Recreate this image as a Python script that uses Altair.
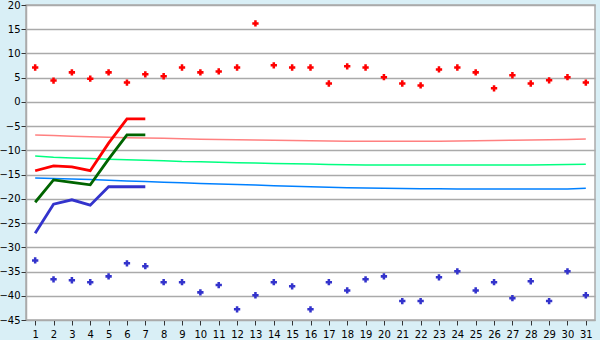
import altair as alt
import pandas as pd

days = list(range(1, 32))

# scatter points
red_pts = [7.1, 4.4, 6.1, 4.8, 6.1, 4.0, 5.7, 5.3, 7.1, 6.1, 6.3, 7.1, 16.2, 7.55, 7.1, 7.1,
           3.8, 7.35, 7.1, 5.1, 3.8, 3.4, 6.7, 7.1, 6.1, 2.8, 5.5, 3.8, 4.45, 5.1, 4.0]
blue_pts = [-32.7, -36.6, -36.8, -37.2, -36.0, -33.3, -33.9, -37.2, -37.2, -39.3, -37.8, -42.8,
            -39.9, -37.2, -38.05, -42.8, -37.2, -38.9, -36.6, -36.0, -41.1, -41.1, -36.2, -34.95,
            -38.9, -37.2, -40.5, -37.0, -41.1, -34.95, -39.9]

# thin normal lines
pink_line = [-6.85, -6.95, -7.1, -7.2, -7.3, -7.4, -7.45, -7.5, -7.6, -7.7, -7.75, -7.8, -7.85,
             -7.9, -7.95, -8.0, -8.05, -8.1, -8.1, -8.1, -8.1, -8.1, -8.1, -8.05, -8.0, -7.95,
             -7.9, -7.85, -7.8, -7.75, -7.65]
green_line = [-11.15, -11.4, -11.55, -11.7, -11.85, -11.95, -12.05, -12.15, -12.3, -12.35, -12.45,
              -12.55, -12.6, -12.7, -12.75, -12.8, -12.9, -12.95, -13.0, -13.0, -13.0, -13.0,
              -13.0, -13.0, -13.0, -13.0, -13.0, -13.0, -12.95, -12.9, -12.85]
blue_line = [-15.7, -15.8, -15.9, -16.0, -16.15, -16.3, -16.4, -16.55, -16.7, -16.85, -16.95,
             -17.05, -17.15, -17.3, -17.4, -17.5, -17.6, -17.7, -17.75, -17.8, -17.85, -17.9,
             -17.9, -17.95, -17.95, -17.95, -17.95, -17.95, -17.95, -17.95, -17.8]

# thick lines (first 7 days)
thick_days = [1, 2, 3, 4, 5, 6, 7]
red_thick = [-14.2, -13.2, -13.4, -14.2, -8.5, -3.5, -3.5]
green_thick = [-20.7, -16.1, -16.6, -17.1, -11.8, -6.8, -6.8]
blue_thick = [-27.1, -21.1, -20.2, -21.3, -17.5, -17.5, -17.5]

y_ticks = list(range(-45, 21, 5))

thin_df = pd.DataFrame(
    [{"day": d, "v": v, "s": "pink"} for d, v in zip(days, pink_line)]
    + [{"day": d, "v": v, "s": "green"} for d, v in zip(days, green_line)]
    + [{"day": d, "v": v, "s": "blue"} for d, v in zip(days, blue_line)]
)
thick_df = pd.DataFrame(
    [{"day": d, "v": v, "s": "red"} for d, v in zip(thick_days, red_thick)]
    + [{"day": d, "v": v, "s": "dgreen"} for d, v in zip(thick_days, green_thick)]
    + [{"day": d, "v": v, "s": "dblue"} for d, v in zip(thick_days, blue_thick)]
)
pts_df = pd.DataFrame(
    [{"day": d, "v": v, "s": "rp"} for d, v in zip(days, red_pts)]
    + [{"day": d, "v": v, "s": "bp"} for d, v in zip(days, blue_pts)]
)

FONT = "DejaVu Sans"
xenc = alt.X("day:Q", scale=alt.Scale(domain=[0.5, 31.5], nice=False, zero=False),
             axis=alt.Axis(values=days, title=None, grid=False, labelFontSize=10, labelFont=FONT,
                           labelColor="#000000", tickColor="#333333", tickSize=5, labelPadding=4,
                           domainColor="#aaaaaa", labelFlush=False))
yenc = alt.Y("v:Q", scale=alt.Scale(domain=[-45, 20], nice=False, zero=False),
             axis=alt.Axis(values=y_ticks, title=None, grid=True, gridColor="#aaaaaa",
                           gridWidth=1.5, labelFontSize=10, labelFont=FONT, labelColor="#000000",
                           tickColor="#333333", tickSize=5, labelPadding=1,
                           domainColor="#aaaaaa", domainWidth=1.5))

color_scale = alt.Scale(
    domain=["pink", "green", "blue", "red", "dgreen", "dblue", "rp", "bp"],
    range=["#ff8080", "#00ff80", "#0080ff", "#ff0000", "#006400", "#3333cc", "#ff0000", "#3333cc"],
)

thin = alt.Chart(thin_df).mark_line(strokeWidth=1.5, interpolate="linear").encode(
    x=xenc, y=yenc, color=alt.Color("s:N", scale=color_scale, legend=None), detail="s:N"
)
thick = alt.Chart(thick_df).mark_line(strokeWidth=2.8).encode(
    x=xenc, y=yenc, color=alt.Color("s:N", scale=color_scale, legend=None), detail="s:N"
)
pts = alt.Chart(pts_df).mark_point(shape="cross", filled=True, size=40, opacity=1).encode(
    x=xenc, y=yenc, color=alt.Color("s:N", scale=color_scale, legend=None)
)

chart = (
    alt.layer(thin, thick, pts)
    .properties(width=569, height=315, background="#d9eff6",
                padding={"left": 26, "top": 5, "right": 5, "bottom": 20},
                autosize=alt.AutoSizeParams(type="none"))
    .configure_view(fill="#ffffff", stroke="#aaaaaa", strokeWidth=1.5)
)

chart.save("out.html", embed_options={"renderer": "svg", "actions": False})
